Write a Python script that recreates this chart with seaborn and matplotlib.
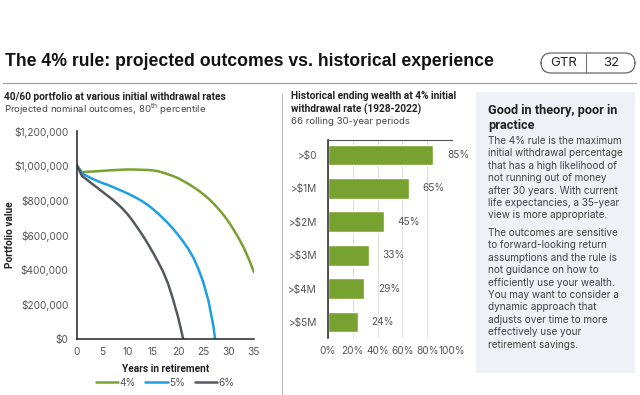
import matplotlib
matplotlib.use("Agg")
import matplotlib.pyplot as plt
from matplotlib.patches import FancyBboxPatch, Rectangle
from matplotlib.lines import Line2D
import numpy as np
import pandas as pd
import seaborn as sns

# ---- data ----
years_4 = list(range(0, 36))
value_4 = [1.000, 0.962, 0.965, 0.966, 0.968, 0.970, 0.972, 0.974, 0.975, 0.977,
           0.978, 0.978, 0.977, 0.976, 0.975, 0.973, 0.968, 0.960, 0.950, 0.940,
           0.928, 0.912, 0.895, 0.877, 0.857, 0.835, 0.810, 0.782, 0.750, 0.715,
           0.675, 0.630, 0.580, 0.525, 0.460, 0.385]
years_5 = list(range(0, 28)) + [27.3]
value_5 = [1.000, 0.955, 0.940, 0.925, 0.912, 0.900, 0.890, 0.878, 0.865, 0.853,
           0.840, 0.825, 0.810, 0.793, 0.773, 0.750, 0.725, 0.697, 0.668, 0.636,
           0.600, 0.562, 0.520, 0.470, 0.405, 0.325, 0.220, 0.070, 0.0]
years_6 = list(range(0, 22))
value_6 = [1.000, 0.940, 0.918, 0.895, 0.873, 0.850, 0.828, 0.805, 0.780, 0.752,
           0.720, 0.682, 0.640, 0.597, 0.550, 0.500, 0.447, 0.390, 0.320, 0.228,
           0.125, 0.0]
rate_labels = ["4%", "5%", "6%"]

wealth_cats = [">$0", ">$1M", ">$2M", ">$3M", ">$4M", ">$5M"]
wealth_share = [85, 65, 45, 33, 29, 24]

y_ticks = [0, 200000, 400000, 600000, 800000, 1000000, 1200000]
y_ticklabels = ["$0", "$200,000", "$400,000", "$600,000", "$800,000", "$1,000,000", "$1,200,000"]
x_ticks = [0, 5, 10, 15, 20, 25, 30, 35]
pct_ticks = [0, 20, 40, 60, 80, 100]

GREEN = "#78a22f"
BLUE = "#1e9fe3"
GRAY = "#55595e"
TXT = "#222222"
TICK = "#555555"
BOLD = dict(fontsize=7.3, fontweight='bold', color=TXT, family=['Roboto', 'DejaVu Sans'])

sns.set_theme(style="white")
plt.rcParams['font.family'] = ['Inter', 'DejaVu Sans']
plt.rcParams['mathtext.fontset'] = 'custom'
plt.rcParams['mathtext.rm'] = 'Inter'

fig = plt.figure(figsize=(6.4, 3.95), dpi=100)
W, H = 640, 395

def fx(px):
    return px / W

def fy(py):
    return 1 - py / H

# ---- header ----
fig.text(fx(5), fy(62), "The 4% rule: projected outcomes vs. historical experience",
         fontsize=12.7, fontweight='bold', color="#111111", va='center', ha='left',
         family=['Liberation Sans', 'DejaVu Sans'])
fig.add_artist(Line2D([fx(3), fx(636)], [fy(83), fy(83)], color="#999999", lw=0.8))
pill = FancyBboxPatch((fx(541), fy(73)), fx(94), (73 - 53) / H,
                      boxstyle="round,pad=0,rounding_size=0.016", transform=fig.transFigure,
                      facecolor='white', edgecolor="#555555", lw=0.8, mutation_aspect=W / H)
fig.add_artist(pill)
fig.add_artist(Line2D([fx(586), fx(586)], [fy(53), fy(73)], color="#777777", lw=0.8))
fig.text(fx(564), fy(63.5), "GTR", fontsize=9.5, ha='center', va='center', color=TXT)
fig.text(fx(611), fy(63.5), "32", fontsize=9.5, ha='center', va='center', color=TXT)

# separator between left and middle panels
fig.add_artist(Line2D([fx(282), fx(282)], [fy(93), fy(395)], color="#bbbbbb", lw=0.8))

# ---- left panel: projected outcomes ----
fig.text(fx(4), fy(97), "40/60 portfolio at various initial withdrawal rates", va='center', **BOLD)
fig.text(fx(4), fy(109), "Projected nominal outcomes, 80$^{\\mathrm{th}}$ percentile",
         fontsize=6.9, color="#444444", va='center')

df = pd.concat([
    pd.DataFrame({"year": years_4, "value": np.array(value_4) * 1e6, "rate": rate_labels[0]}),
    pd.DataFrame({"year": years_5, "value": np.array(value_5) * 1e6, "rate": rate_labels[1]}),
    pd.DataFrame({"year": years_6, "value": np.array(value_6) * 1e6, "rate": rate_labels[2]}),
])

ax1 = fig.add_axes([fx(77), fy(339), fx(254 - 77), (339 - 131) / H])
sns.lineplot(data=df, x="year", y="value", hue="rate", palette=[GREEN, BLUE, GRAY],
             linewidth=1.8, ax=ax1, legend=False)
ax1.set_xlim(0, 35)
ax1.set_ylim(0, 1200000)
ax1.set_xticks(x_ticks)
ax1.set_yticks(y_ticks)
ax1.set_yticklabels(y_ticklabels)
ax1.tick_params(axis='both', length=0, labelsize=7.3, labelcolor=TICK, pad=6)
ax1.set_xlabel("Years in retirement", labelpad=5, **BOLD)
ax1.set_ylabel("Portfolio value", **BOLD)
ax1.yaxis.set_label_coords((15 - 77) / (254 - 77), 0.5)
for s in ["top", "right"]:
    ax1.spines[s].set_visible(False)
for s in ["left", "bottom"]:
    ax1.spines[s].set_color("#222222")
    ax1.spines[s].set_linewidth(1.1)
handles = [Line2D([0], [0], color=c, lw=1.8) for c in [GREEN, BLUE, GRAY]]
fig.legend(handles, rate_labels, loc='center', bbox_to_anchor=(fx(165), fy(383)), ncol=3,
           frameon=False, fontsize=7.3, handlelength=2.2, handletextpad=0.1, columnspacing=1.0,
           labelcolor=TICK)

# ---- middle panel: historical ending wealth ----
fig.text(fx(291), fy(103), "Historical ending wealth at 4% initial\nwithdrawal rate (1928-2022)",
         va='center', linespacing=1.3, **BOLD)
fig.text(fx(291), fy(121), "66 rolling 30-year periods", fontsize=6.9, color="#444444",
         va='center')

ax2 = fig.add_axes([fx(328), fy(338), fx(452 - 328), (338 - 140) / H])
sns.barplot(x=wealth_share, y=wealth_cats, color=GREEN, width=0.62, orient='h',
            saturation=1, ax=ax2)
ax2.set_xlim(0, 100)
ax2.set_ylim(5.48, -0.45)
ax2.set_xticks(pct_ticks)
ax2.set_xticklabels([f"{p}%" for p in pct_ticks])
ax2.xaxis.grid(True, color="#dddddd", lw=0.7)
ax2.set_axisbelow(True)
ax2.tick_params(axis='both', length=0, labelsize=7.3, labelcolor=TICK)
ax2.tick_params(axis='y', pad=8)
ax2.tick_params(axis='x', pad=6)
ax2.set_xlabel("")
ax2.set_ylabel("")
ax2.bar_label(ax2.containers[0], fmt='%d%%', padding=10, fontsize=7.3, color=TICK)
ax2.spines["right"].set_visible(False)
ax2.spines["bottom"].set_visible(False)
ax2.spines["left"].set_color("#222222")
ax2.spines["left"].set_linewidth(1.1)
ax2.spines["top"].set_color("#555555")
ax2.spines["top"].set_linewidth(0.8)

# ---- right panel: text box ----
fig.add_artist(Rectangle((fx(476), fy(373)), fx(635 - 476), (373 - 92) / H,
                         transform=fig.transFigure, facecolor="#eef2f6", edgecolor='none'))
fig.text(fx(488), fy(104), "Good in theory, poor in\npractice", fontsize=9.2,
         fontweight='bold', color=TXT, va='top', linespacing=1.2,
         family=['Roboto', 'DejaVu Sans'])
paras = [
    (136, "The 4% rule is the maximum\ninitial withdrawal percentage\nthat has a high likelihood of\n"
          "not running out of money\nafter 30 years. With current\nlife expectancies, a 35-year\n"
          "view is more appropriate."),
    (228, "The outcomes are sensitive\nto forward-looking return\nassumptions and the rule is\n"
          "not guidance on how to\nefficiently use your wealth."),
    (290, "You may want to consider a\ndynamic approach that\nadjusts over time to more\n"
          "effectively use your\nretirement savings."),
]
for top, txt in paras:
    fig.text(fx(488), fy(top), txt, fontsize=7.2, color="#444444", va='top', linespacing=1.3)

plt.savefig("out.png", dpi=100)
